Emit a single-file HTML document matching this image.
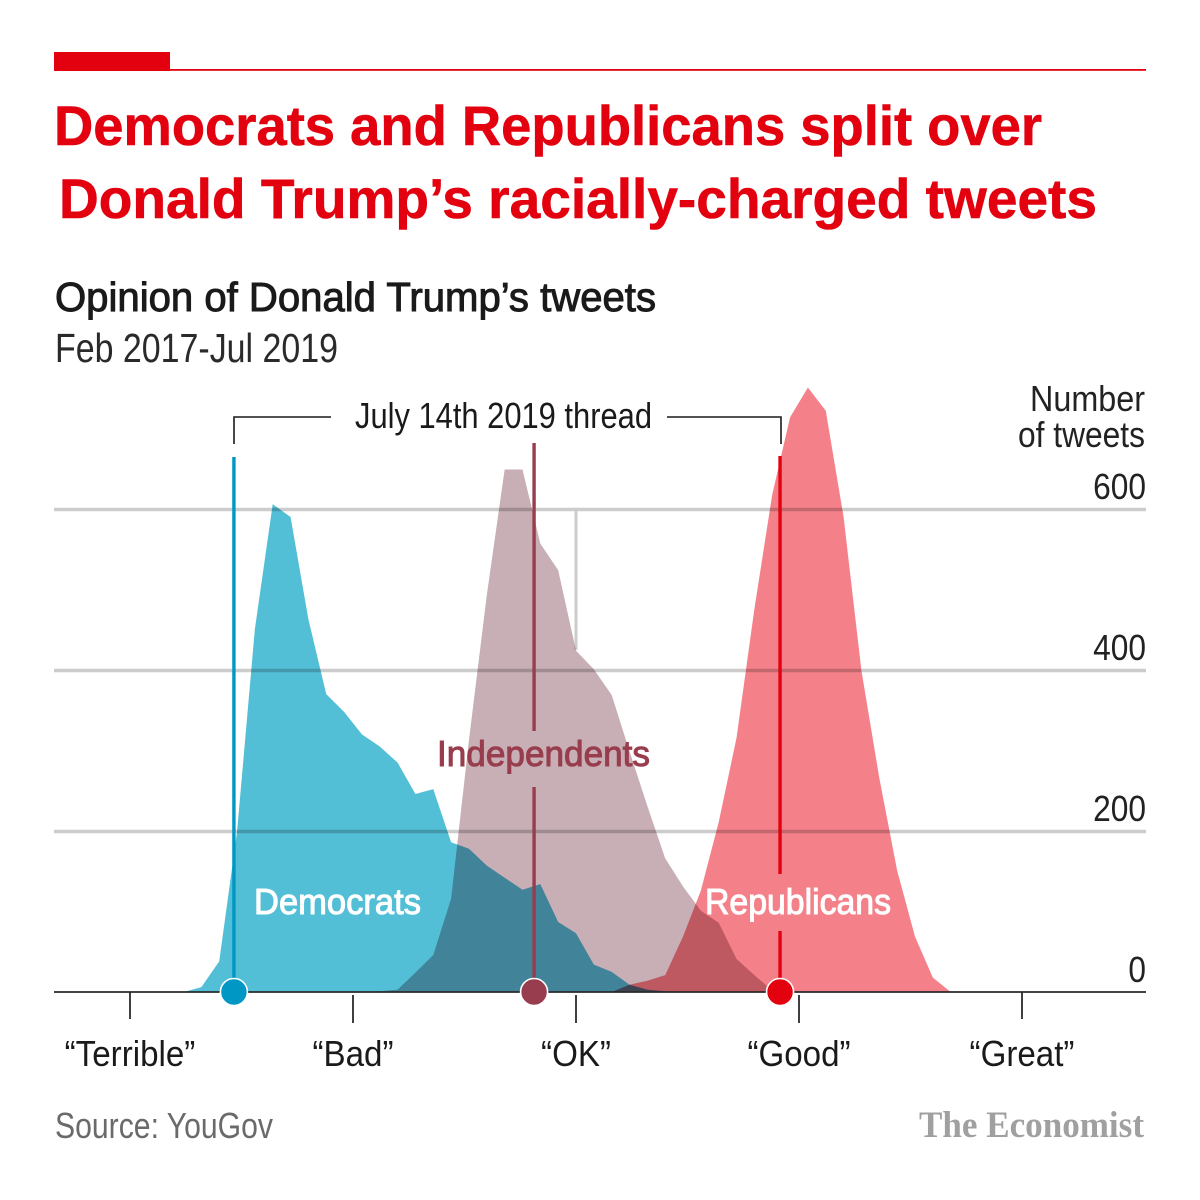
<!DOCTYPE html>
<html lang="en">
<head>
<meta charset="utf-8">
<title>Democrats and Republicans split over Donald Trump's racially-charged tweets</title>
<style>
  html,body{margin:0;padding:0;background:#fff;}
  svg{display:block;font-family:"Liberation Sans",sans-serif;}
  .area{mix-blend-mode:multiply;}
</style>
</head>
<body>
<svg id="chart" xmlns="http://www.w3.org/2000/svg" width="1200" height="1200" viewBox="0 0 1200 1200">
  <rect x="0" y="0" width="1200" height="1200" fill="#fff"/>
  <rect x="54" y="52" width="116" height="19" fill="#e3000f"/>
  <rect x="54" y="69" width="1092" height="1.8" fill="#e3000f"/>

  <text x="54" y="145" font-size="56" font-weight="700" fill="#e3000f" stroke="#e3000f" stroke-width="0.6" textLength="988" lengthAdjust="spacingAndGlyphs">Democrats and Republicans split over</text>
  <text x="59" y="218" font-size="56" font-weight="700" fill="#e3000f" stroke="#e3000f" stroke-width="0.6" textLength="1038" lengthAdjust="spacingAndGlyphs">Donald Trump’s racially-charged tweets</text>

  <text x="55" y="311" font-size="41" fill="#1a1a1a" stroke="#1a1a1a" stroke-width="1" textLength="601" lengthAdjust="spacingAndGlyphs">Opinion of Donald Trump’s tweets</text>
  <text x="55" y="362" font-size="41" fill="#2a2a2a" textLength="283" lengthAdjust="spacingAndGlyphs">Feb 2017-Jul 2019</text>

  <text x="1030" y="411" font-size="36" fill="#222" textLength="115" lengthAdjust="spacingAndGlyphs">Number</text>
  <text x="1018" y="447" font-size="36" fill="#222" textLength="127" lengthAdjust="spacingAndGlyphs">of tweets</text>

  <g id="grid"></g>
  <g id="areas" style="isolation:auto"></g>
  <g id="axis"></g>
  <g id="means"></g>

  <path d="M234 444V417H331" fill="none" stroke="#1a1a1a" stroke-width="1.6"/>
  <path d="M667 417H781V444" fill="none" stroke="#1a1a1a" stroke-width="1.6"/>
  <text x="355" y="428" font-size="36" fill="#1a1a1a" textLength="297" lengthAdjust="spacingAndGlyphs">July 14th 2019 thread</text>

  <text x="437" y="766" font-size="36" fill="#983d4e" stroke="#983d4e" stroke-width="1" textLength="213" lengthAdjust="spacingAndGlyphs">Independents</text>
  <text x="254" y="914" font-size="36" fill="#fff" stroke="#fff" stroke-width="1" textLength="167" lengthAdjust="spacingAndGlyphs">Democrats</text>
  <text x="705" y="914" font-size="36" fill="#fff" stroke="#fff" stroke-width="1" textLength="186" lengthAdjust="spacingAndGlyphs">Republicans</text>

  <text x="55" y="1138" font-size="36" fill="#6a6a6a" textLength="218" lengthAdjust="spacingAndGlyphs">Source: YouGov</text>
  <text x="919" y="1137" font-family="'Liberation Serif',serif" font-size="37" font-weight="700" fill="#a0a0a0" textLength="225" lengthAdjust="spacingAndGlyphs">The Economist</text>
</svg>

<script>
const scores = [-1.76,-1.68,-1.60,-1.52,-1.44,-1.36,-1.28,-1.20,-1.12,-1.04,-0.96,-0.88,-0.80,-0.72,-0.64,-0.56,-0.48,-0.40,-0.32,-0.24,-0.16,-0.08,0,0.08,0.16,0.24,0.32,0.40,0.48,0.56,0.64,0.72,0.80,0.88,0.96,1.04,1.12,1.20,1.28,1.36,1.44,1.52,1.60,1.68,1.76];
const democrats = [0,6,38,199,451,606,590,463,370,348,320,305,285,246,252,186,178,157,142,127,134,87,73,34,25,9,3,1,0,0,0,0,0,0,0,0,0,0,0,0,0,0,0,0,0];
const independents = [0,0,0,0,0,0,0,0,0,0,0,1,3,24,46,116,313,493,649,649,557,524,424,401,369,299,231,166,131,101,86,41,21,2,0,0,0,0,0,0,0,0,0,0,0];
const republicans = [0,0,0,0,0,0,0,0,0,0,0,0,0,0,0,0,0,0,0,0,0,0,0,0,0,9,14,21,69,126,211,316,476,618,714,751,722,590,399,266,151,69,18,0,0];
const threadMeanDemocrats = -1.534;
const threadMeanIndependents = -0.188;
const threadMeanRepublicans = 0.915;
const yTicks = [0,200,400,600];
const xTickScores = [-2,-1,0,1,2];
const xTickLabels = ["“Terrible”","“Bad”","“OK”","“Good”","“Great”"];

const NS = "http://www.w3.org/2000/svg";
const x = s => 576 + 223 * s;
const y = n => 992 - 0.805 * n;
function make(tag, parent, attrs, text) {
  const el = document.createElementNS(NS, tag);
  for (const k in attrs) el.setAttribute(k, attrs[k]);
  if (text !== undefined) el.textContent = text;
  parent.appendChild(el);
  return el;
}
function condense(el, factor) {
  const w = el.getComputedTextLength();
  el.setAttribute("textLength", (w * factor).toFixed(1));
  el.setAttribute("lengthAdjust", "spacingAndGlyphs");
}

const gridG = document.getElementById("grid");
yTicks.forEach(t => {
  if (t > 0) {
    const line = make("line", gridG, {x1:54, x2:1146, y1:y(t) + 0.5, y2:y(t) + 0.5, stroke:"#cccccc", "stroke-width":3.4});
    
    
  }
  const label = make("text", gridG, {x:1146, y:y(t) - 10, "text-anchor":"end", "font-size":36, fill:"#222"}, String(t));
  
  
  condense(label, 0.88);
});
const stray = make("line", gridG, {x1:x(0), x2:x(0), y1:y(600), y2:y(425), stroke:"#cccccc", "stroke-width":3});



function areaPath(values) {
  let d = "M" + x(scores[0]) + " " + y(0);
  values.forEach((v, i) => { d += "L" + x(scores[i]).toFixed(2) + " " + y(v).toFixed(2); });
  d += "L" + x(scores[scores.length - 1]) + " " + y(0) + "Z";
  return d;
}
const areasG = document.getElementById("areas");
const demArea = make("path", areasG, {d:areaPath(democrats), fill:"#53bfd6", class:"area"});


const indArea = make("path", areasG, {d:areaPath(independents), fill:"#c7afb5", class:"area"});


const repArea = make("path", areasG, {d:areaPath(republicans), fill:"#f4818a", class:"area"});



const axisG = document.getElementById("axis");
const axisLine = make("line", axisG, {x1:54, x2:1146, y1:992, y2:992, stroke:"#2a2a2a", "stroke-width":1.8});


xTickScores.forEach((s, i) => {
  const outer = Math.abs(s) === 2;
  const tick = make("line", axisG, {x1:x(s), x2:x(s), y1:outer ? 992 : 995, y2:outer ? 1019 : 1023, stroke:"#2a2a2a", "stroke-width":1.8});
  
  
  const label = make("text", axisG, {x:x(s), y:1066, "text-anchor":"middle", "font-size":36, fill:"#1a1a1a"}, xTickLabels[i]);
  
  
  condense(label, 0.92);
});

const meansG = document.getElementById("means");
function meanMarker(score, color, segments, name) {
  segments.forEach(seg => {
    const line = make("line", meansG, {x1:x(score), x2:x(score), y1:seg[0], y2:seg[1], stroke:color, "stroke-width":3.4});
    
    
  });
  const dot = make("circle", meansG, {cx:x(score), cy:y(0), r:13.5, fill:color, stroke:"#fff", "stroke-width":1.6});
  
  
}
meanMarker(threadMeanDemocrats, "#0097c4", [[457,992]], "democrats");
meanMarker(threadMeanIndependents, "#983d4e", [[443,731],[787,992]], "independents");
meanMarker(threadMeanRepublicans, "#e3000f", [[456,874],[931,992]], "republicans");
</script>
</body>
</html>
